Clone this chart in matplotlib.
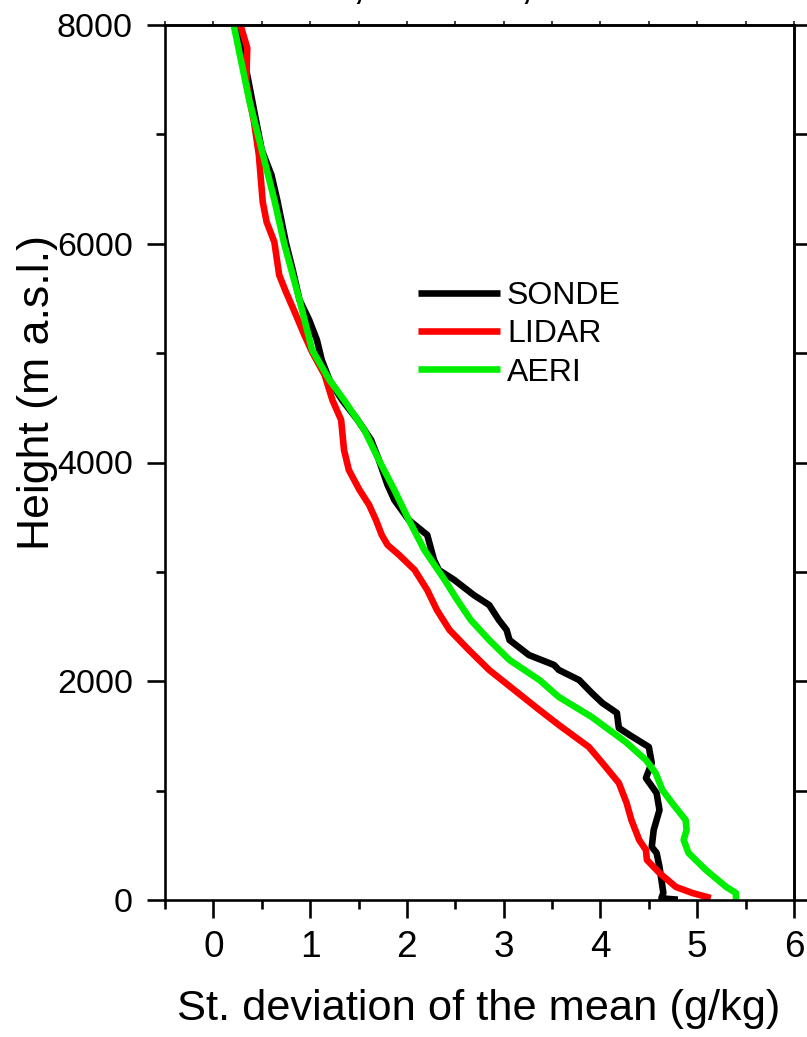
import matplotlib
matplotlib.use("Agg")
import matplotlib.pyplot as plt
from matplotlib import font_manager
from matplotlib.ticker import MultipleLocator, NullFormatter

# ---------------- data ----------------
sonde_height = [8000, 7680, 7314, 6857, 6629, 6400, 6007, 5760, 5486, 5303, 5120,
                4937, 4754, 4571, 4389, 4206, 4023, 3794, 3657, 3474, 3337, 3109,
                3017, 2926, 2789, 2697, 2560, 2469, 2377, 2240, 2149, 2103, 2011,
                1893, 1801, 1710, 1573, 1509, 1399, 1253, 1115, 978, 823, 640,
                485, 430, 302, 64, 18, 10, 3]
sonde_std = [0.23, 0.32, 0.40, 0.50, 0.60, 0.66, 0.75, 0.82, 0.89, 0.99, 1.07,
             1.12, 1.20, 1.33, 1.49, 1.63, 1.71, 1.80, 1.87, 2.02, 2.21, 2.28,
             2.33, 2.49, 2.69, 2.85, 2.95, 3.03, 3.06, 3.26, 3.52, 3.57, 3.78,
             3.91, 4.02, 4.17, 4.19, 4.30, 4.50, 4.53, 4.47, 4.58, 4.61, 4.55,
             4.53, 4.58, 4.61, 4.65, 4.63, 4.70, 4.80]

lidar_height = [8000, 7790, 7479, 7333, 7113, 6811, 6382, 6199, 6016, 5714, 5559,
                5376, 5166, 5010, 4800, 4571, 4389, 4114, 3931, 3749, 3611, 3474,
                3337, 3246, 3154, 3017, 2834, 2651, 2469, 2286, 2103, 1920, 1737,
                1600, 1399, 1253, 1070, 887, 731, 549, 457, 366, 247, 119, 64, 18]
lidar_std = [0.28, 0.35, 0.34, 0.37, 0.42, 0.47, 0.51, 0.55, 0.63, 0.68, 0.75,
             0.84, 0.94, 1.02, 1.15, 1.23, 1.32, 1.35, 1.40, 1.51, 1.61, 1.68,
             1.74, 1.80, 1.92, 2.08, 2.21, 2.31, 2.44, 2.64, 2.85, 3.11, 3.37,
             3.57, 3.88, 4.02, 4.19, 4.27, 4.32, 4.40, 4.47, 4.48, 4.61, 4.78,
             4.95, 5.14]

aeri_height = [8000, 7314, 6857, 6400, 6007, 5486, 5029, 4754, 4571, 4297, 4023,
               3749, 3474, 3200, 2926, 2743, 2560, 2377, 2194, 2011, 1856, 1673,
               1445, 1280, 1161, 1006, 887, 731, 640, 549, 430, 274, 119, 64, 0]
aeri_std = [0.21, 0.37, 0.50, 0.63, 0.73, 0.89, 1.02, 1.20, 1.35, 1.56, 1.71,
            1.87, 2.02, 2.18, 2.39, 2.52, 2.66, 2.85, 3.06, 3.37, 3.57, 3.91,
            4.26, 4.47, 4.57, 4.64, 4.74, 4.88, 4.89, 4.86, 4.91, 5.09, 5.30,
            5.40, 5.40]

series_labels = ["SONDE", "LIDAR", "AERI"]
series_colors = ["#000000", "#ff0000", "#00ee00"]
x_ticks = [0, 1, 2, 3, 4, 5, 6]
y_ticks = [0, 2000, 4000, 6000, 8000]
title_text = "SONDE, LIDAR, AERI"

# ---------------- fonts ----------------
names = {f.name for f in font_manager.fontManager.ttflist}
REG = "Liberation Sans" if "Liberation Sans" in names else "DejaVu Sans"
NARROW = "Liberation Sans Narrow" if "Liberation Sans Narrow" in names else None

DPI = 100
W, H = 807, 1037
def px(v):  # pixels -> points
    return v * 72.0 / DPI

fig = plt.figure(figsize=(W / DPI, H / DPI), dpi=DPI)
L, R, T, B = 165, 794, 25, 900
ax = fig.add_axes([L / W, 1 - B / H, (R - L) / W, (B - T) / H])

heights = [sonde_height, lidar_height, aeri_height]
stds = [sonde_std, lidar_std, aeri_std]
lines = []
for hgt, sd, lab, col in zip(heights, stds, series_labels, series_colors):
    ln, = ax.plot(sd, hgt, color=col, lw=px(6.6), label=lab,
                  solid_joinstyle="round", solid_capstyle="butt", clip_on=True)
    lines.append(ln)

ax.set_xlim(-0.5, 6.0)
ax.set_ylim(0, 8000)

spine_w = px(2.6)
for s in ax.spines.values():
    s.set_linewidth(spine_w)

ax.set_xticks(x_ticks)
ax.xaxis.set_minor_locator(MultipleLocator(0.5))
ax.set_yticks(y_ticks)
ax.yaxis.set_minor_locator(MultipleLocator(1000))

ax.tick_params(axis="x", which="major", direction="out", length=px(18), width=spine_w,
               pad=px(12), top=False)
ax.tick_params(axis="x", which="minor", direction="out", length=px(9), width=spine_w,
               top=False)
ax.tick_params(axis="y", which="major", direction="out", length=px(18), width=spine_w,
               pad=px(14), right=False)
ax.tick_params(axis="y", which="minor", direction="out", length=px(9), width=spine_w,
               right=False)

# x tick labels (tall, narrow look)
if NARROW:
    xt_font = dict(family=NARROW, size=px(46))
    xl_font = dict(family=NARROW, size=px(50))
else:
    xt_font = dict(family=REG, size=px(37))
    xl_font = dict(family=REG, size=px(43.4))
ax.set_xticklabels([str(v) for v in x_ticks], fontdict=xt_font)
ax.set_yticklabels([str(v) for v in y_ticks], family=REG, fontsize=px(34))

# secondary top / right axes for the extra tick marks
top = ax.secondary_xaxis("top")
top.xaxis.set_major_locator(MultipleLocator(0.5))
top.xaxis.set_major_formatter(NullFormatter())
top.tick_params(axis="x", direction="out", length=px(4), width=px(1.5))
top.spines["top"].set_linewidth(spine_w)

right = ax.secondary_yaxis("right")
right.yaxis.set_major_locator(MultipleLocator(1000))
right.yaxis.set_major_formatter(NullFormatter())
right.tick_params(axis="y", direction="out", length=px(16), width=spine_w)
right.spines["right"].set_linewidth(spine_w)

# axis labels
ax.set_xlabel("St. deviation of the mean (g/kg)", fontdict=xl_font, va="center")
ax.xaxis.set_label_coords((479 - L) / (R - L), (B - 1009) / (B - T))
ax.set_ylabel("Height (m a.s.l.)", family=REG, fontsize=px(44.6), va="center")
ax.yaxis.set_label_coords((38 - L) / (R - L), (B - 392) / (B - T))

# legend
leg = ax.legend(handles=lines, labels=series_labels, loc="upper left",
                bbox_to_anchor=((418 - L) / (R - L), (B - 281) / (B - T)),
                frameon=False, prop=dict(family=REG, size=px(32)),
                handlelength=2.56, handletextpad=0.22, labelspacing=0.26,
                borderpad=0.0, borderaxespad=0.0)

# title, mostly beyond the top edge of the picture (as in the reference)
fig.text(182 / W, 1 + 2 / H, title_text, family=REG, fontsize=px(48),
         ha="left", va="baseline")

fig.savefig("out.png", dpi=DPI)
